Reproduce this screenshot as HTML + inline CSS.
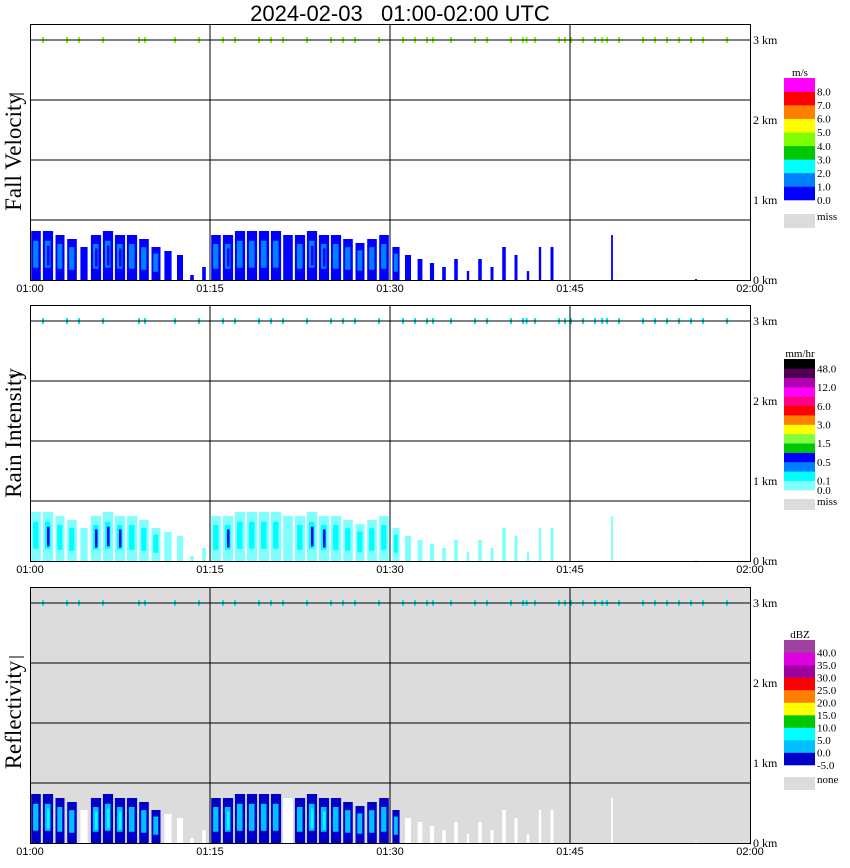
<!DOCTYPE html>
<html><head><meta charset="utf-8"><style>
body{margin:0;background:#fff;width:850px;height:868px;overflow:hidden}
svg{display:block}
.t{font-family:"Liberation Sans",sans-serif}
.s{font-family:"Liberation Serif",serif}
</style></head><body>
<svg id="c" width="850" height="868" xmlns="http://www.w3.org/2000/svg"></svg>
<script>
// echo top height (km) per minute, 01:00..01:59
const echoTop=[0.65,0.65,0.6,0.55,0.45,0.6,0.65,0.6,0.6,0.55,0.45,0.4,0.35,0.1,0.2,
0.6,0.6,0.65,0.65,0.65,0.65,0.6,0.6,0.65,0.6,0.6,0.55,0.5,0.55,0.6,
0.45,0.35,0.3,0.25,0.2,0.3,0.15,0.3,0.2,0.45,0.35,0.15,0.45,0.45,0,
0,0,0,0.6,0,0,0,0,0,0,0.05,0,0,0,0];
// fraction of each minute column covered by echo
const coverage=[0.8,0.85,0.75,0.8,0.6,0.85,0.85,0.85,0.85,0.8,0.75,0.6,0.5,0.3,0.3,
0.8,0.85,0.85,0.85,0.85,0.85,0.8,0.85,0.85,0.85,0.85,0.8,0.75,0.8,0.8,
0.6,0.5,0.4,0.35,0.3,0.3,0.2,0.3,0.25,0.3,0.25,0.2,0.2,0.25,0,
0,0,0,0.15,0,0,0,0,0,0,0.15,0,0,0,0];
// intensity class per minute (0 light,1 moderate,2 strong)
const intensity=[1,2,1,1,0,2,2,2,1,1,1,0,0,0,0,
1,2,1,1,1,1,0,1,2,2,1,1,1,1,1,
1,0,0,0,0,0,0,0,0,0,0,0,0,0,0,
0,0,0,0,0,0,0,0,0,0,0,0,0,0,0];
// minutes with echoes at the 3 km level
const topMarks=[1,3,4,6,9,9.5,12,14,16,17,19,20,21,23,25,26,27,29,31,32,33,33.5,35,37,38,40,41,41.3,42,44,44.5,45,46,47,47.6,48,49,51,52,53,54,55,56,58];
const xTicks=["01:00","01:15","01:30","01:45","02:00"];
const kmTicks=[0,1,2,3];
const fvColors=["#0000ff","#0080ff","#00ffff","#00c800","#80ff00","#ffff00","#ff8000","#ff0000","#ff00ff"];
const fvLabels=["0.0","1.0","2.0","3.0","4.0","5.0","6.0","7.0","8.0"];
const riColors=["#80ffff","#00ffff","#0080ff","#0000ff","#00c800","#80ff40","#ffff00","#ff8000","#ff0000","#ff0080","#ff00ff","#b000b0","#500050","#000000"];
const riLabels=["0.0","0.1","","0.5","","1.5","","3.0","","6.0","","12.0","","48.0"];
const dbColors=["#0000c8","#00c0ff","#00ffff","#00c800","#ffff00","#ff8000","#ff0000","#a000a0","#e000e0","#a040a0"];
const dbLabels=["-5.0","0.0","5.0","10.0","15.0","20.0","25.0","30.0","35.0","40.0"];

const NS="http://www.w3.org/2000/svg";
const svg=document.getElementById('c');
function el(tag,attrs,parent,txt){const e=document.createElementNS(NS,tag);for(const k in attrs)e.setAttribute(k,attrs[k]);if(txt!==undefined)e.textContent=txt;(parent||svg).appendChild(e);return e;}
const X0=30,X1=750;
const xMin=m=>X0+m*(X1-X0)/60;

let t=el('text',{x:400,y:21,'text-anchor':'middle','font-size':22,class:'t','xml:space':'preserve',style:'white-space:pre'},svg,"2024-02-03   01:00-02:00 UTC");



const panels=[
 {top:24,name:'fall-velocity',title:'Fall Velocity',bg:'#fff',type:0},
 {top:305,name:'rain-intensity',title:'Rain Intensity',bg:'#fff',type:1},
 {top:587,name:'reflectivity',title:'Reflectivity',bg:'#dcdcdc',type:2}];

panels.forEach(p=>{
 const g=el('g',{});
 
 
 const T=p.top,B=T+256;
 const yKm=k=>B-k*(B-(T+16))/3;
 el('rect',{x:X0,y:T,width:X1-X0,height:256,fill:p.bg},g);
 echoTop.forEach((h,m)=>{
  if(h<=0)return;
  const W=(X1-X0)/60,cv=coverage[m],w=W*cv,x=xMin(m)+(W-w)/2,y=yKm(h)+3,hh=B-y;
  const it=intensity[m];
  let base,core,inner;
  if(p.type===0){base='#0000ff';core='#0080ff';inner='#0000ff';}
  else if(p.type===1){base='#80ffff';core='#00ffff';inner='#0000ff';}
  else{base='#0000c8';core='#00c0ff';inner='#00ffff';if(it===0)base='#ffffff';}
  const r=el('rect',{x:x,y:y,width:w,height:hh,fill:base},g);
  
  
  if(it>=1){el('rect',{x:x+w*0.2,y:y+hh*0.2,width:w*0.55,height:hh*0.55,fill:core},g);}
  if(it>=2){el('rect',{x:x+w*0.4,y:y+hh*0.3,width:w*0.25,height:hh*0.4,fill:inner},g);}
 });
 const tc=p.type===0?'#80ff00':'#00e8e8';
 topMarks.forEach(m=>{
  const r=el('rect',{x:xMin(m),y:yKm(3)-3,width:2,height:6,fill:tc},g);
  
  
 });
 [1,2,3].forEach(i=>el('line',{x1:xMin(i*15),x2:xMin(i*15),y1:T,y2:B,stroke:'#000'},g));
 [16,76,136,196].forEach(d=>el('line',{x1:X0,x2:X1,y1:T+d,y2:T+d,stroke:'#000'},g));
 el('rect',{x:X0+0.5,y:T+0.5,width:X1-X0,height:256,fill:'none',stroke:'#000'},g);
 xTicks.forEach((s,i)=>{const tx=el('text',{x:xMin(i*15),y:B+12,'text-anchor':'middle','font-size':11,class:'t'},g,s);
  });
 kmTicks.forEach(k=>{const tx=el('text',{x:753,y:yKm(k)+4,'font-size':12,class:'s'},g,k+' km');
  });
 const yt=el('text',{transform:`translate(21,${T+128}) rotate(-90)`,'text-anchor':'middle','font-size':23,class:'s'},g,p.title);
 
 
 el('line',{x1:9,x2:24,y1:T+70,y2:T+70,stroke:'#000'},g);
});

function legend(cols,labels,unit,top,bottom,missTop,missH,missLbl,name){
 const g=el('g',{});
 
 
 const n=cols.length,h=(bottom-top)/n;
 cols.forEach((c,i)=>{el('rect',{x:784,y:bottom-(i+1)*h,width:31,height:h+0.3,fill:c},g);
  if(labels[i]){const tx=el('text',{x:817,y:bottom-i*h+4,'font-size':11,class:'s'},g,labels[i]);
   }});
 el('text',{x:800,y:top-2,'text-anchor':'middle','font-size':11,class:'s'},g,unit);
 el('rect',{x:784,y:missTop,width:31,height:missH,fill:'#dcdcdc'},g);
 el('text',{x:817,y:missTop+6,'font-size':11,class:'s'},g,missLbl);
}
legend(fvColors,fvLabels,'m/s',78,200,214,14,'miss','fall-velocity-legend');
legend(riColors,riLabels,'mm/hr',359,490,499,11,'miss','rain-intensity-legend');
legend(dbColors,dbLabels,'dBZ',640,765,777,13,'none','reflectivity-legend');
</script>
</body></html>
